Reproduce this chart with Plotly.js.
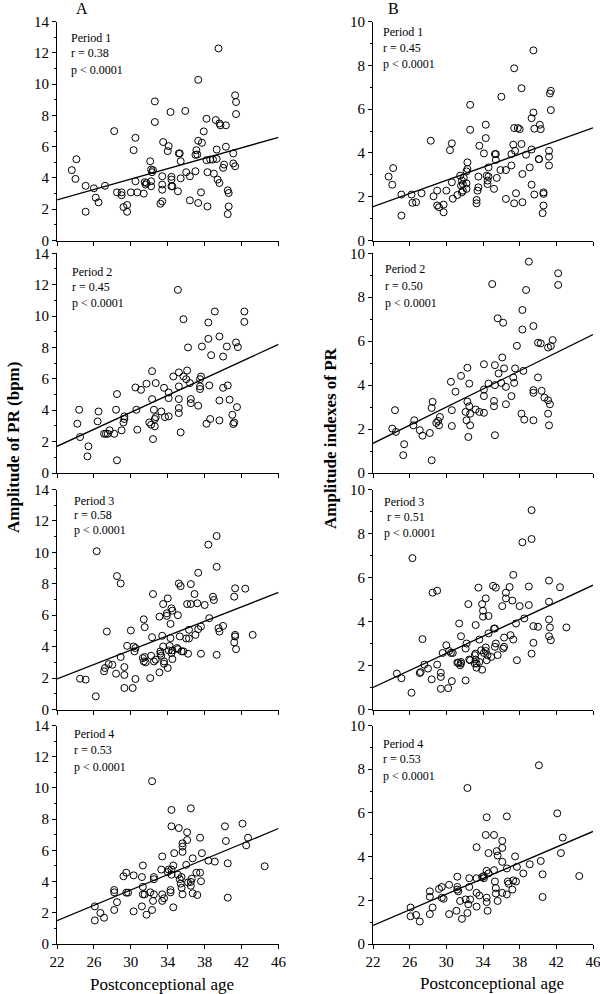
<!DOCTYPE html>
<html><head><meta charset="utf-8">
<script src="https://cdn.plot.ly/plotly-3.0.1.min.js"></script>
<style>html,body{margin:0;padding:0;background:#fff}#chart{width:600px;height:994px}</style>
</head><body><div id="chart"></div>
<script>
// ---------------- DATA ----------------
const periods = ['Period 1', 'Period 2', 'Period 3', 'Period 4'];
const rA = ['0.38', '0.45', '0.58', '0.53'];
const rB = ['0.45', '0.50', '0.51', '0.53'];
const pText = 'p &lt; 0.0001';
const xTicks = [22, 26, 30, 34, 38, 42, 46];
const lineX = [22, 46];
const aLineY = [[2.6, 6.6], [1.7, 8.2], [1.95, 7.45], [1.5, 7.4]];
const bLineY = [[1.55, 5.15], [1.35, 6.3], [1.0, 5.65], [0.85, 5.15]];

// Column A, period 1
const a1x = [23.6,24.1,24.0,25.1,25.1,26.0,26.2,26.5,27.2,28.2,28.5,29.0,29.0,29.2,29.6,29.6,30.0,30.3,30.5,30.5,30.7,31.4,31.5,31.6,31.7,32.1,32.2,32.2,32.3,32.4,32.6,32.6,32.2,33.2,33.4,33.4,33.5,33.4,33.4,34.1,34.0,34.3,34.4,34.4,34.4,34.5,35.1,35.2,35.3,35.4,35.4,35.9,36.0,36.4,36.4,37.0,37.0,37.1,37.2,37.3,37.3,37.3,37.6,37.7,37.9,38.2,38.2,38.3,38.3,38.6,38.9,39.0,39.2,39.3,39.3,39.4,39.5,39.6,39.6,39.7,40.0,40.1,40.3,40.3,40.5,40.6,40.6,40.5,41.1,41.1,41.3,41.3,41.4,41.4];
const a1y = [4.5,5.2,3.94,3.5,1.84,3.34,2.74,2.44,3.5,7.0,3.08,3.08,2.9,2.14,2.27,1.84,3.08,5.78,6.57,3.79,3.08,3.0,3.73,3.58,3.68,5.07,4.54,3.47,4.37,4.5,8.9,7.58,3.79,2.35,2.5,4.11,6.3,3.58,3.25,6.04,5.72,8.22,3.9,4.07,3.47,3.47,3.15,5.57,5.57,5.07,3.98,8.29,4.37,4.11,2.57,4.43,5.48,5.78,5.5,6.38,10.28,2.4,3.08,6.25,6.98,7.79,5.14,4.37,2.18,5.18,5.18,4.28,7.71,5.82,5.22,3.9,12.29,7.49,3.68,7.37,4.65,4.86,7.37,6.0,3.21,3.04,2.18,1.69,5.57,4.93,4.75,9.29,8.86,8.09];
// Column B, period 1
const b1x = [23.7,24.2,24.1,25.1,25.1,26.2,26.3,26.7,27.3,28.3,28.6,29.0,29.0,29.2,29.7,29.7,30.0,30.4,30.6,30.6,30.7,31.2,31.5,31.6,31.7,31.7,31.8,31.8,31.9,32.2,32.2,32.3,32.3,32.2,32.6,32.6,33.3,33.3,33.4,33.5,33.5,33.6,34.1,34.3,34.3,34.4,34.5,34.5,34.6,34.6,35.2,35.3,35.4,35.5,35.4,35.9,36.0,36.5,36.5,37.1,37.1,37.3,37.4,37.4,37.5,37.4,37.6,37.8,38.0,38.2,38.2,38.3,38.3,38.7,39.1,39.3,39.3,39.3,39.5,39.5,39.6,39.6,40.1,40.1,40.2,40.3,40.5,40.6,40.6,40.6,41.2,41.2,41.2,41.3,41.4,41.4];
const b1y = [2.92,3.31,2.55,1.14,2.10,2.10,1.72,1.75,2.16,4.56,2.02,1.6,2.28,1.52,1.64,1.29,2.28,4.13,4.44,2.66,1.91,2.08,2.96,2.51,2.20,2.74,2.58,2.28,2.86,2.36,3.16,3.57,3.27,2.61,6.2,5.06,1.70,1.85,2.28,2.92,2.43,4.33,3.98,4.68,5.29,2.96,2.74,2.58,3.34,2.92,2.36,3.95,3.95,2.86,3.68,3.22,6.57,3.22,1.90,3.43,3.95,4.38,5.14,7.87,4.1,1.70,2.16,5.14,5.09,6.96,4.41,3.04,1.75,3.92,3.34,4.16,2.55,5.59,5.85,8.69,5.11,2.10,3.72,3.72,5.29,5.09,1.25,2.20,2.13,1.60,4.1,3.83,3.43,6.72,6.84,5.96];
// Column A, period 2
const a2x = [24.2,24.4,24.5,25.4,25.3,26.4,26.5,27.1,27.3,27.5,27.7,28.2,28.4,28.5,28.5,29.0,29.2,29.3,29.3,30.5,30.6,30.7,31.1,31.7,32.0,32.2,32.3,32.3,32.4,32.5,32.6,32.6,32.7,32.7,33.3,33.6,33.7,34.1,34.1,34.1,34.6,35.1,35.2,35.2,35.2,35.2,35.2,35.4,35.7,35.7,36.0,36.1,36.2,36.4,36.5,36.5,37.3,37.5,37.5,37.5,37.6,37.7,38.2,38.4,38.4,38.5,38.6,38.7,39.1,39.6,39.6,39.6,40.0,40.0,40.4,40.5,40.7,41.0,41.1,41.2,41.4,41.5,41.6,42.3,42.3];
const a2y = [3.14,4.03,2.29,1.70,1.06,3.29,3.92,2.5,2.5,2.5,2.72,2.5,4.03,5.03,0.81,2.72,3.22,3.44,3.61,5.45,4.03,2.76,5.30,5.69,3.22,3.08,6.49,4.71,2.16,4.03,3.44,2.97,5.73,3.56,3.92,5.43,3.56,5.13,4.77,3.61,6.15,11.67,6.41,5.52,4.71,4.14,3.82,2.59,9.8,6.15,5.98,6.53,8.0,5.73,4.71,4.45,4.29,5.52,5.35,5.98,6.15,8.06,3.14,9.59,8.55,5.58,3.44,7.51,10.29,8.7,4.62,3.35,7.42,5.43,8.06,5.58,4.67,3.71,3.12,3.22,8.32,4.2,8.02,10.29,9.63];
// Column B, period 2
const b2x = [24.1,24.4,24.5,25.4,25.3,26.4,26.5,27.1,27.4,28.2,28.4,28.5,28.4,28.9,29.1,29.3,29.2,30.5,30.6,30.6,31.0,31.6,32.1,32.2,32.3,32.3,32.4,32.5,32.5,32.6,32.6,33.2,33.6,34.1,34.1,34.1,34.1,34.6,35.0,35.2,35.2,35.3,35.3,35.3,35.6,35.7,36.0,36.1,36.2,36.3,36.5,36.5,37.1,37.3,37.4,37.5,37.7,38.2,38.3,38.3,38.4,38.5,38.7,39.0,39.5,39.5,39.5,39.5,40.0,40.0,40.3,40.4,40.7,41.1,41.1,41.1,41.2,41.3,41.4,41.6,42.2,42.2];
const b2y = [2.02,2.86,1.87,1.31,0.81,2.17,2.4,1.95,1.70,1.82,2.96,3.24,0.58,2.28,2.37,2.55,2.17,4.15,2.86,2.14,3.7,4.42,2.78,2.4,3.25,4.79,1.64,3.04,4.07,2.70,2.17,2.89,2.78,2.74,3.5,3.8,4.95,4.07,8.6,3.28,3.04,4.91,4.0,1.72,7.04,4.53,4.10,5.26,6.84,4.76,3.92,3.13,3.5,4.35,4.1,4.76,5.79,2.70,7.42,6.53,4.65,2.43,8.33,9.62,3.77,3.65,6.69,2.4,4.35,5.93,5.9,3.74,3.43,3.31,2.70,5.71,2.17,3.13,5.78,6.05,9.09,8.56];
// Column A, period 3
const a3x = [24.5,25.1,26.2,26.3,27.1,27.2,27.4,27.6,28.0,28.4,28.5,28.9,28.9,29.3,29.3,29.3,29.6,30.0,30.2,30.3,30.4,30.5,30.5,31.3,31.4,31.4,31.5,31.6,31.5,32.2,32.1,32.3,32.4,32.5,32.7,33.1,33.1,33.2,33.2,33.3,33.4,33.5,33.5,33.6,33.6,33.9,33.9,34.0,34.0,34.1,34.2,34.3,34.3,34.4,34.5,34.5,34.5,34.4,35.0,35.1,35.1,35.2,35.3,35.4,35.5,35.7,36.0,36.1,36.2,36.3,36.3,36.5,36.5,36.9,37.0,37.2,37.3,37.3,37.6,37.6,38.0,38.4,38.5,38.9,39.0,39.3,39.3,39.3,39.5,39.6,40.0,41.2,41.3,41.3,41.3,41.2,41.4,42.4,43.2];
const a3y = [1.96,1.9,0.84,10.07,2.43,2.64,4.96,2.89,2.85,2.28,8.49,8.02,3.34,2.7,2.2,1.37,4.05,5.03,1.37,4.01,3.7,1.94,3.91,3.27,5.74,3.06,5.24,3.0,3.34,3.42,2.0,4.6,7.35,3.06,3.17,2.36,5.91,3.55,3.7,3.42,4.69,6.71,4.01,2.91,3.06,5.96,6.12,7.07,2.64,3.76,4.05,5.45,4.54,6.44,3.21,6.29,3.76,3.59,3.91,6.0,3.84,8.02,4.65,7.85,3.7,3.7,4.52,6.71,3.55,5.07,4.52,6.71,7.98,7.35,4.75,6.76,8.7,5.11,5.28,3.55,6.65,10.49,5.81,7.18,6.97,9.08,3.48,11.04,5.17,4.96,5.32,7.18,7.71,4.75,4.65,4.27,3.84,7.69,4.75];
// Column B, period 3
const b3x = [24.6,25.1,26.2,26.3,27.1,27.2,27.4,27.6,28.0,28.4,28.5,29.0,29.0,29.4,29.4,29.4,29.6,30.0,30.2,30.3,30.5,30.6,30.7,31.2,31.3,31.4,31.5,31.6,31.6,31.6,32.1,32.1,32.2,32.4,32.5,32.6,33.1,33.1,33.2,33.2,33.2,33.3,33.3,33.5,33.6,33.6,33.8,33.9,33.9,34.0,34.0,34.1,34.3,34.3,34.3,34.4,34.5,34.6,34.6,34.9,35.1,35.2,35.3,35.4,35.3,35.4,35.6,36.1,36.2,36.3,36.3,36.5,36.5,36.9,37.0,37.2,37.3,37.3,37.6,37.7,38.0,38.3,38.5,39.0,39.0,39.3,39.3,39.3,39.5,39.5,40.0,41.2,41.2,41.2,41.3,41.2,41.4,42.4,43.1];
const b3y = [1.63,1.42,0.76,6.88,1.66,1.7,3.2,2.04,1.86,1.37,5.31,5.4,2.04,1.67,1.48,0.94,2.57,2.92,0.97,2.66,2.57,1.29,2.57,2.13,2.12,3.91,2.01,2.16,3.33,2.09,1.32,2.77,3.0,4.79,2.27,2.24,2.47,2.09,3.84,2.54,2.27,1.9,2.09,5.54,3.18,2.16,2.69,4.79,1.81,4.49,4.22,2.57,5.05,2.82,2.66,2.24,2.47,4.25,3.46,2.39,5.62,3.68,3.68,5.54,2.85,3.0,2.47,4.7,2.77,3.27,2.85,5.05,5.31,5.57,3.38,4.95,6.12,3.18,3.91,2.24,4.7,7.6,4.14,5.59,4.75,9.06,7.75,2.54,3.79,3.03,3.76,5.86,4.9,4.09,3.73,3.33,3.15,5.56,3.73];
// Column A, period 4
const a4x = [26.1,26.1,26.7,27.1,28.2,28.2,28.2,28.5,29.2,29.5,29.5,29.7,30.3,30.3,31.2,31.2,31.3,31.3,31.3,31.5,31.7,32.1,32.3,32.3,32.4,32.5,32.5,32.5,33.4,33.3,33.4,33.4,33.6,34.0,34.1,34.3,34.3,34.4,34.4,34.4,34.4,34.6,34.7,34.6,35.1,35.2,35.3,35.4,35.5,35.5,35.6,35.6,35.6,35.6,36.0,36.1,36.1,36.2,36.5,36.5,36.6,36.5,36.7,36.7,37.1,37.2,37.5,37.6,37.5,37.7,38.4,39.1,40.2,40.3,40.5,40.5,42.1,42.5,42.7,44.5];
const a4y = [2.41,1.51,1.99,1.68,3.31,3.46,2.18,2.68,4.34,4.57,3.29,3.29,4.4,2.09,2.41,4.29,5.03,3.66,3.18,3.18,1.88,3.31,10.43,2.18,2.76,3.18,4.29,4.15,5.61,4.77,3.18,2.76,2.93,4.61,4.77,3.31,3.46,4.44,8.59,7.54,4.77,5.03,5.82,2.35,4.44,7.43,4.15,3.87,3.6,4.29,6.45,6.24,5.9,3.18,5.07,6.66,7.16,3.94,3.98,3.73,4.19,8.69,5.49,3.25,4.57,3.14,4.57,4.02,6.81,5.82,5.34,5.28,7.54,6.6,5.17,2.97,7.71,6.32,6.81,4.98];
// Column B, period 4
const b4x = [26.1,26.1,26.7,27.1,28.2,28.2,28.2,28.5,29.2,29.5,29.5,29.7,30.3,30.3,31.1,31.2,31.2,31.2,31.3,31.5,31.7,32.1,32.3,32.3,32.4,32.5,32.5,32.6,33.3,33.3,33.3,33.3,33.6,33.9,34.1,34.1,34.3,34.4,34.4,34.4,34.4,34.5,34.6,34.6,35.2,35.2,35.3,35.4,35.4,35.5,35.6,35.6,36.1,36.1,36.1,36.1,36.6,36.6,36.6,36.7,36.8,37.2,37.3,37.5,37.6,37.7,38.4,39.1,40.1,40.3,40.5,40.5,42.1,42.5,42.7,44.5];
const b4y = [1.67,1.27,1.33,1.03,2.41,2.16,1.37,1.67,2.52,2.61,2.12,2.07,1.37,2.71,1.52,2.61,2.49,3.08,2.41,1.97,1.15,2.04,7.14,1.42,1.82,3.01,2.61,2.04,3.01,4.43,2.34,1.71,2.22,3.06,3.11,3.01,4.99,5.8,3.35,2.12,1.92,1.52,4.16,3.23,4.99,3.38,2.86,2.56,2.31,4.25,4.05,1.97,4.72,4.4,3.76,2.34,5.84,2.27,3.46,2.86,2.76,2.49,2.91,4.01,2.86,3.53,3.23,3.65,8.18,3.8,3.19,2.15,5.98,4.16,4.87,3.11];

const colA = [[a1x,a1y],[a2x,a2y],[a3x,a3y],[a4x,a4y]];
const colB = [[b1x,b1y],[b2x,b2y],[b3x,b3y],[b4x,b4y]];

// ---------------- LAYOUT ----------------
const W = 600, H = 994;
const FONT = 'Liberation Serif, Times New Roman, serif';
const px = v => v / W;
const py = v => 1 - v / H;
const colDomains = [[px(57), px(278.5)], [px(373), px(593)]];
const rowPix = [[21.7, 240.5], [253.3, 473], [489.5, 709.5], [725.5, 944]];
const yMax = [14, 10];
const yDtick = [2, 2];

const traces = [];
const layout = {
  width: W, height: H,
  margin: {l: 0, r: 0, t: 0, b: 0},
  paper_bgcolor: '#fff', plot_bgcolor: '#fff',
  showlegend: false,
  font: {family: FONT, color: '#000'},
  annotations: []
};

function addAnn(text, x, y, size, opts) {
  layout.annotations.push(Object.assign({
    text: text, xref: 'paper', yref: 'paper', x: px(x), y: py(y),
    xanchor: 'left', yanchor: 'middle', showarrow: false,
    font: {family: FONT, size: size, color: '#000'}
  }, opts || {}));
}

const annPos = [
  [[69, [38, 53, 70]], [381, [32, 48, 64]]],
  [[70, [272, 287, 303]], [383, [269, 286, 303]]],
  [[72, [501, 515, 530]], [382, [502, 517, 533]]],
  [[72, [734, 750, 767]], [381, [744, 759, 776]]]
];

for (let i = 0; i < 4; i++) {
  for (let c = 0; c < 2; c++) {
    const k = i * 2 + c + 1;
    const xa = k === 1 ? 'x' : 'x' + k;
    const ya = k === 1 ? 'y' : 'y' + k;
    const d = c === 0 ? colA[i] : colB[i];
    const ln = c === 0 ? aLineY[i] : bLineY[i];
    traces.push({
      x: d[0], y: d[1], xaxis: xa, yaxis: ya, type: 'scatter', mode: 'markers',
      marker: {symbol: 'circle-open', size: 7, color: '#000', line: {width: 1, color: '#000'}},
      hoverinfo: 'x+y', cliponaxis: false
    });
    traces.push({
      x: lineX, y: ln, xaxis: xa, yaxis: ya, type: 'scatter', mode: 'lines',
      line: {color: '#000', width: 1.3}, hoverinfo: 'skip'
    });
    const axBase = {
      showline: true, linecolor: '#000', linewidth: 1, mirror: false,
      ticks: 'outside', ticklen: 4, tickwidth: 1, tickcolor: '#000',
      showgrid: false, zeroline: false, fixedrange: true,
      tickfont: {family: FONT, size: 15, color: '#000'}
    };
    layout['xaxis' + (k === 1 ? '' : k)] = Object.assign({}, axBase, {
      domain: colDomains[c], range: [22, 46], tickvals: xTicks,
      showticklabels: i === 3, anchor: ya, ticklabeloverflow: 'allow'
    });
    layout['yaxis' + (k === 1 ? '' : k)] = Object.assign({}, axBase, {
      domain: [py(rowPix[i][1]), py(rowPix[i][0])], range: [0, yMax[c]],
      dtick: yDtick[c], tick0: 0, anchor: xa,
      minor: {ticks: 'outside', ticklen: 2.5, dtick: 1, tickcolor: '#000', tickwidth: 1}
    });
    const ap = annPos[i][c];
    const rTxt = 'r = ' + (c === 0 ? rA[i] : rB[i]);
    addAnn(periods[i], ap[0], ap[1][0], 12);
    addAnn(rTxt, ap[0] + (i === 2 && c === 1 ? 3 : 0), ap[1][1], 12);
    addAnn(pText, ap[0], ap[1][2], 12);
  }
}

// Panel letters and axis titles
addAnn('A', 82, 8, 16, {xanchor: 'center'});
addAnn('B', 393, 8, 16, {xanchor: 'center'});
addAnn('Postconceptional age', 162, 984, 17, {xanchor: 'center'});
addAnn('Postconceptional age', 492, 983, 17, {xanchor: 'center'});
addAnn('<b>Amplitude of PR (bpm)</b>', 13, 448, 17, {xanchor: 'center', textangle: -90});
addAnn('<b>Amplitude indexes of PR</b>', 330, 438, 17, {xanchor: 'center', textangle: -90});

Plotly.newPlot('chart', traces, layout, {staticPlot: true, displayModeBar: false});
</script>
</body></html>
